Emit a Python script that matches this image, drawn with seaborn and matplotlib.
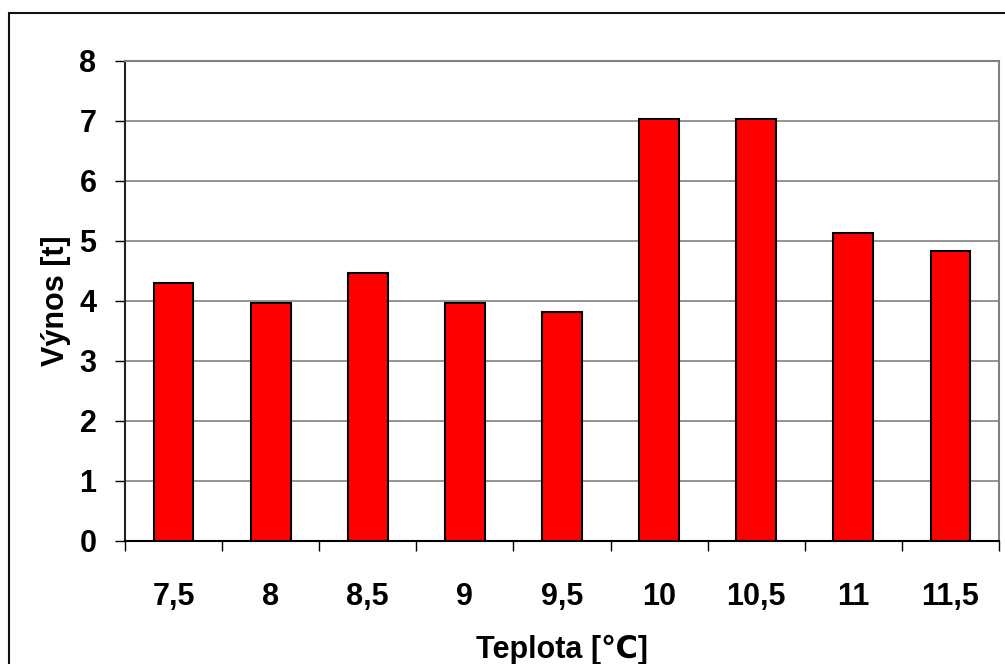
import matplotlib
matplotlib.use("Agg")
import matplotlib.pyplot as plt
from matplotlib.patches import Rectangle
from matplotlib.ticker import FixedLocator
import seaborn as sns
import pandas as pd

# Teplota (°C) a výnos (t)
teploty = ["7,5", "8", "8,5", "9", "9,5", "10", "10,5", "11", "11,5"]
vynosy = [4.30, 3.97, 4.47, 3.97, 3.81, 7.03, 7.03, 5.13, 4.83]
y_ticks = [0, 1, 2, 3, 4, 5, 6, 7, 8]

df = pd.DataFrame({"teplota": teploty, "vynos": vynosy})

sns.set_theme(style="white")
plt.rcParams["font.family"] = ["Liberation Sans", "DejaVu Sans"]
plt.rcParams["font.weight"] = "bold"
plt.rcParams["text.color"] = "black"
plt.rcParams["axes.labelcolor"] = "black"
plt.rcParams["xtick.color"] = "black"
plt.rcParams["ytick.color"] = "black"

W, H = 1005, 664
fig = plt.figure(figsize=(W / 100, H / 100), dpi=100)
fig.patch.set_facecolor("white")

# outer chart frame
fig.patches.append(Rectangle((9 / W, -0.05), 1.2, 1 - 13 / H + 0.05,
                             transform=fig.transFigure, fill=False,
                             edgecolor="#111111", linewidth=1.5, zorder=0))

ax = fig.add_axes([125 / W, 1 - 540.5 / H, (999 - 125) / W, (540.5 - 61) / H])

sns.barplot(data=df, x="teplota", y="vynos", order=teploty, ax=ax,
            color="#ff0000", saturation=1, width=0.41,
            edgecolor="black", linewidth=1.5, zorder=3)

ax.set_xlim(-0.5, len(teploty) - 0.5)
ax.set_ylim(0, 8)
ax.set_yticks(y_ticks)
ax.set_yticklabels([str(v) for v in y_ticks])

# horizontal gridlines
ax.yaxis.grid(True, color="#808080", linewidth=1.2, zorder=0)
ax.xaxis.grid(False)

# spines
for side in ["top", "right"]:
    ax.spines[side].set_visible(True)
    ax.spines[side].set_color("#808080")
    ax.spines[side].set_linewidth(1.5)
ax.spines["left"].set_color("#222222")
ax.spines["left"].set_linewidth(1.5)
ax.spines["bottom"].set_color("black")
ax.spines["bottom"].set_linewidth(1.5)

# category boundary ticks on x, labels centred under bars
ax.xaxis.set_minor_locator(FixedLocator([i - 0.5 for i in range(len(teploty) + 1)]))
ax.tick_params(axis="x", which="major", length=0, pad=30, labelsize=22,
               labelcolor="black")
ax.tick_params(axis="x", which="minor", length=7.5, width=1, color="black",
               direction="out", bottom=True)
ax.tick_params(axis="y", which="major", length=7.5, width=1, color="black",
               direction="out", left=True, pad=13, labelsize=22,
               labelcolor="black")
for lab in ax.get_xticklabels() + ax.get_yticklabels():
    lab.set_fontweight("bold")
    lab.set_color("black")

ax.set_xlabel("Teplota [℃]", fontsize=22, fontweight="bold", labelpad=16,
              color="black")
ax.set_ylabel("Výnos [t]", fontsize=22, fontweight="bold", labelpad=6,
              color="black")

fig.savefig("out.png", dpi=100)
